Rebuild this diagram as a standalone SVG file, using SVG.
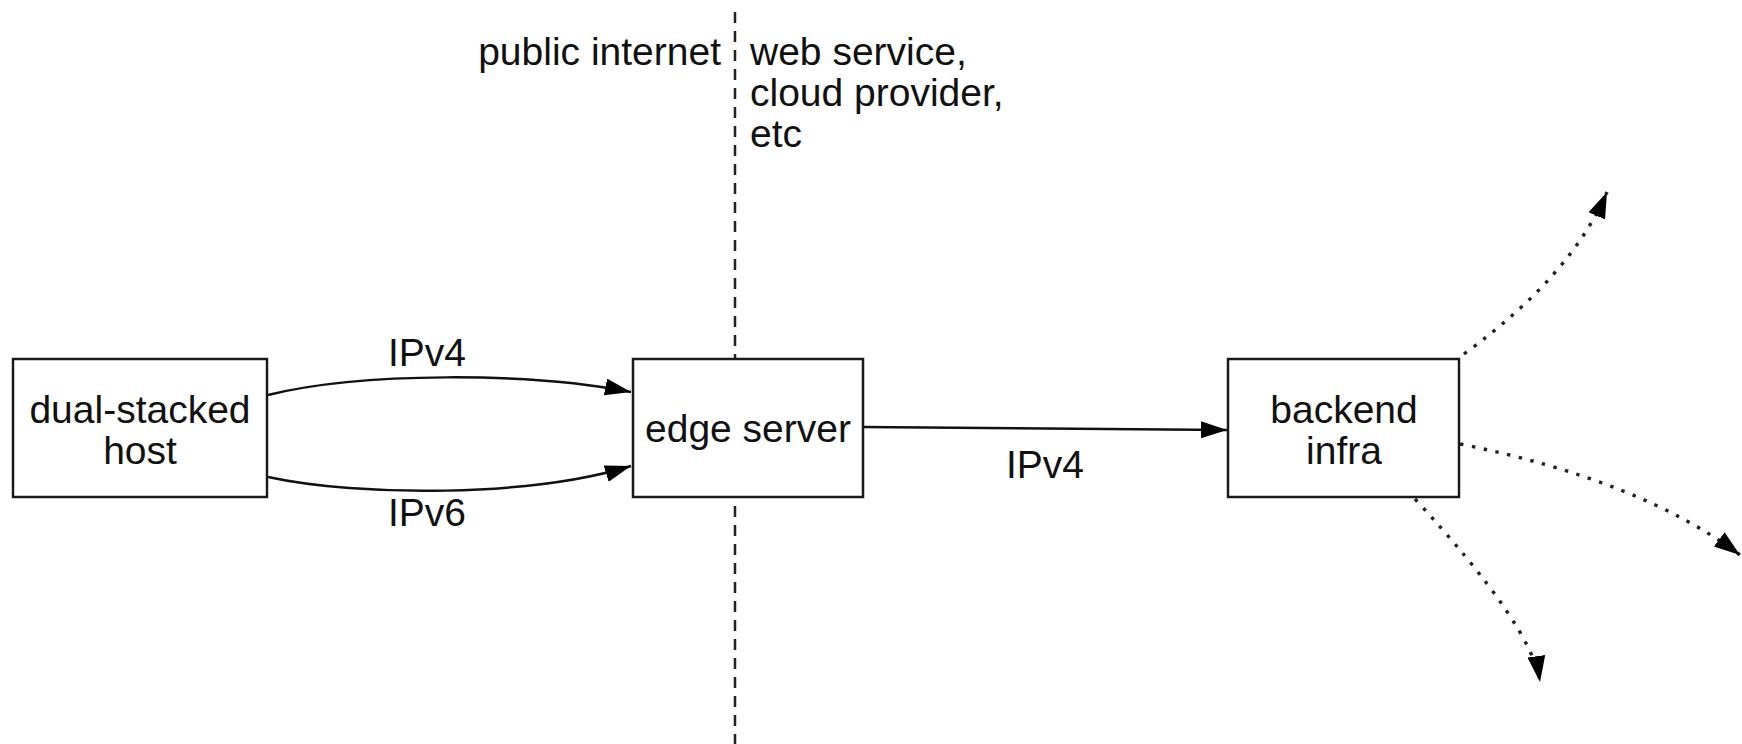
<svg xmlns="http://www.w3.org/2000/svg" width="1742" height="744" viewBox="0 0 1742 744">
<defs>
<style>
.box{fill:#fff;stroke:#1a1a1a;stroke-width:2.5}
.t{font-family:"Liberation Sans",Arial,Helvetica,sans-serif;font-size:39px;fill:#111}
.c{text-anchor:middle}
.solid{fill:none;stroke:#111;stroke-width:2.5}
.dot{fill:none;stroke:#222;stroke-width:3.4;stroke-dasharray:3.4 8.6}
.divider{fill:none;stroke:#222;stroke-width:2.5;stroke-dasharray:11 8}
</style>
<marker id="arr" markerUnits="userSpaceOnUse" markerWidth="26" markerHeight="18" refX="26" refY="8.5" orient="auto">
<path d="M0,0 L26,8.5 L0,17 Z" fill="#000"/>
</marker>
<marker id="arrd" markerUnits="userSpaceOnUse" markerWidth="26" markerHeight="20" refX="26" refY="9" orient="auto">
<path d="M0,0 L26,9 L0,18 Z" fill="#000"/>
</marker>
</defs>
<rect width="1742" height="744" fill="#fff"/>
<g id="divider">
<line class="divider" x1="735" y1="12" x2="735" y2="744"/>
<text class="t" x="721" y="65" text-anchor="end">public internet</text>
<text class="t" x="750" y="65">web service,</text>
<text class="t" x="750" y="106">cloud provider,</text>
<text class="t" x="750" y="147">etc</text>
</g>
<g id="connectors">
<path class="solid" d="M268,395 C360,372 530,372 631,392" marker-end="url(#arr)"/>
<path class="solid" d="M268,477 C360,497 530,497 631,466" marker-end="url(#arr)"/>
<path class="solid" d="M863,427 L1227,430" marker-end="url(#arr)"/>
<path class="dot" d="M1464,354 Q1571,276 1607,192" marker-end="url(#arrd)"/>
<path class="dot" d="M1460,444 Q1640,480 1740,555" marker-end="url(#arrd)"/>
<path class="dot" d="M1415,499 Q1532,626 1540,682" marker-end="url(#arrd)"/>
<text class="t c" x="427" y="366">IPv4</text>
<text class="t c" x="427" y="526">IPv6</text>
<text class="t c" x="1045" y="478">IPv4</text>
</g>
<g id="host">
<rect class="box" x="13" y="359" width="254" height="138"/>
<text class="t c" x="140" y="423">dual-stacked</text>
<text class="t c" x="140" y="464">host</text>
</g>
<g id="edge">
<rect class="box" x="633" y="359" width="230" height="138"/>
<text class="t c" x="748" y="442">edge server</text>
</g>
<g id="backend">
<rect class="box" x="1228" y="359" width="231" height="138"/>
<text class="t c" x="1344" y="423">backend</text>
<text class="t c" x="1344" y="464">infra</text>
</g>
</svg>
